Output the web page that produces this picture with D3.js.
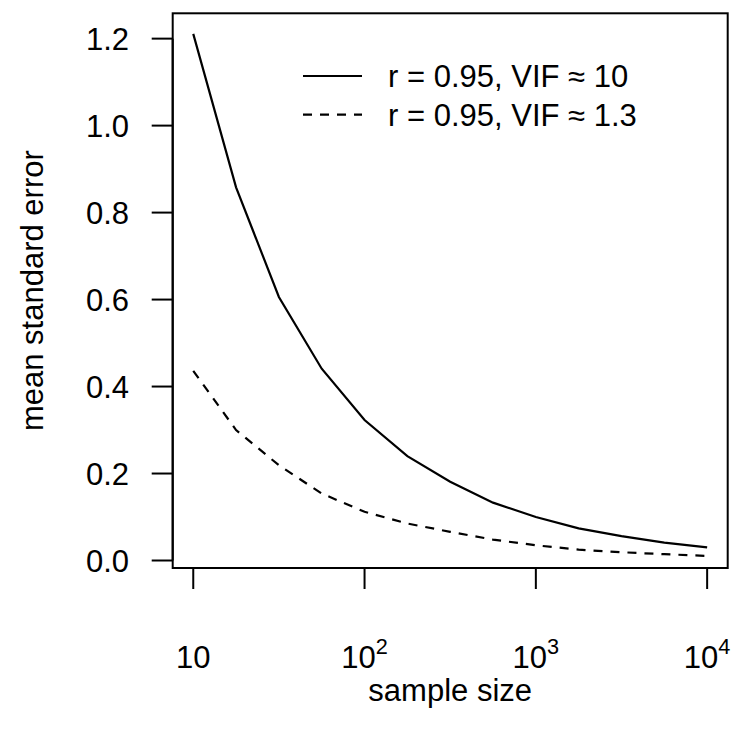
<!DOCTYPE html>
<html>
<head>
<meta charset="utf-8">
<script src="https://cdn.jsdelivr.net/npm/d3@7"></script>
<style>
  html, body { margin: 0; padding: 0; background: #fff; }
  svg { display: block; }
  text { font-family: "Liberation Sans", Arial, Helvetica, sans-serif; fill: #000; }
</style>
</head>
<body>
<svg id="chart" width="736" height="738"></svg>
<script>
// ---- data ----
const sampleSize = [10, 17.78, 31.62, 56.23, 100, 177.8, 316.2, 562.3, 1000, 1778, 3162, 5623, 10000];
const seHighVIF = [1.211, 0.858, 0.606, 0.441, 0.323, 0.240, 0.181, 0.133, 0.100, 0.074, 0.056, 0.041, 0.030];
const seLowVIF  = [0.436, 0.300, 0.219, 0.154, 0.112, 0.085, 0.066, 0.048, 0.035, 0.025, 0.019, 0.0145, 0.0106];
const seriesLabels = ["r = 0.95, VIF \u2248 10", "r = 0.95, VIF \u2248 1.3"];
const xTicks = [10, 100, 1000, 10000];
const xTickExponents = [null, "2", "3", "4"];
const yTicks = [0, 0.2, 0.4, 0.6, 0.8, 1.0, 1.2];
const xLabel = "sample size";
const yLabel = "mean standard error";

// ---- layout ----
const svg = d3.select("#chart");
const box = { left: 172.7, right: 727.7, top: 13.3, bottom: 568 };
const fontSize = 31;

// R-style 4% axis extension
const lx = d3.extent(sampleSize).map(Math.log10);
const dx = (lx[1] - lx[0]) * 0.04;
const x = d3.scaleLog().domain([Math.pow(10, lx[0] - dx), Math.pow(10, lx[1] + dx)]).range([box.left, box.right]);
const ey = d3.extent(seHighVIF);
const dy = (ey[1] - ey[0]) * 0.04;
const y = d3.scaleLinear().domain([ey[0] - dy, ey[1] + dy]).range([box.bottom, box.top]);

const tickLen = 21;

// plot box
svg.append("rect")
  .attr("x", box.left).attr("y", box.top)
  .attr("width", box.right - box.left).attr("height", box.bottom - box.top)
  .attr("fill", "none").attr("stroke", "#000").attr("stroke-width", 2);

// y axis
const yAxis = svg.append("g");
yAxis.append("line")
  .attr("x1", box.left).attr("x2", box.left)
  .attr("y1", y(yTicks[0])).attr("y2", y(yTicks[yTicks.length - 1]))
  .attr("stroke", "#000").attr("stroke-width", 2);
yAxis.selectAll("line.tick").data(yTicks).enter().append("line")
  .attr("class", "tick")
  .attr("x1", box.left).attr("x2", box.left - tickLen)
  .attr("y1", d => y(d)).attr("y2", d => y(d))
  .attr("stroke", "#000").attr("stroke-width", 2);
yAxis.selectAll("text").data(yTicks).enter().append("text")
  .attr("x", 129).attr("y", d => y(d))
  .attr("dy", "0.36em")
  .attr("text-anchor", "end")
  .attr("font-size", fontSize)
  .text(d => d.toFixed(1));

// x axis
const xAxis = svg.append("g");
xAxis.append("line")
  .attr("x1", x(xTicks[0])).attr("x2", x(xTicks[xTicks.length - 1]))
  .attr("y1", box.bottom).attr("y2", box.bottom)
  .attr("stroke", "#000").attr("stroke-width", 2);
xAxis.selectAll("line.tick").data(xTicks).enter().append("line")
  .attr("class", "tick")
  .attr("x1", d => x(d)).attr("x2", d => x(d))
  .attr("y1", box.bottom).attr("y2", box.bottom + tickLen)
  .attr("stroke", "#000").attr("stroke-width", 2);
xTicks.forEach((t, i) => {
  const txt = xAxis.append("text")
    .attr("x", x(t)).attr("y", 668)
    .attr("text-anchor", "middle")
    .attr("font-size", fontSize);
  txt.append("tspan").text("10");
  if (xTickExponents[i]) {
    txt.append("tspan").attr("font-size", fontSize * 0.7).attr("dy", -fontSize * 0.45).text(xTickExponents[i]);
  }
});

// axis titles
svg.append("text")
  .attr("x", (box.left + box.right) / 2).attr("y", 701)
  .attr("text-anchor", "middle").attr("font-size", fontSize)
  .text(xLabel);
svg.append("text")
  .attr("transform", `translate(43,${(box.top + box.bottom) / 2}) rotate(-90)`)
  .attr("text-anchor", "middle").attr("font-size", fontSize)
  .text(yLabel);

// lines
const line = d3.line().x(d => x(d[0])).y(d => y(d[1]));
svg.append("path")
  .datum(sampleSize.map((s, i) => [s, seHighVIF[i]]))
  .attr("d", line).attr("fill", "none").attr("stroke", "#000").attr("stroke-width", 2.2);
svg.append("path")
  .datum(sampleSize.map((s, i) => [s, seLowVIF[i]]))
  .attr("d", line).attr("fill", "none").attr("stroke", "#000").attr("stroke-width", 2.2)
  .attr("stroke-dasharray", "9,8");

// legend
const legend = svg.append("g");
const legY = [76, 114.7];
const dashes = [null, "9,8"];
seriesLabels.forEach((lab, i) => {
  legend.append("line")
    .attr("x1", 303).attr("x2", 362)
    .attr("y1", legY[i]).attr("y2", legY[i])
    .attr("stroke", "#000").attr("stroke-width", 2.2)
    .attr("stroke-dasharray", dashes[i]);
  legend.append("text")
    .attr("x", 388).attr("y", legY[i]).attr("dy", "0.36em")
    .attr("font-size", fontSize)
    .text(lab);
});
</script>
</body>
</html>
